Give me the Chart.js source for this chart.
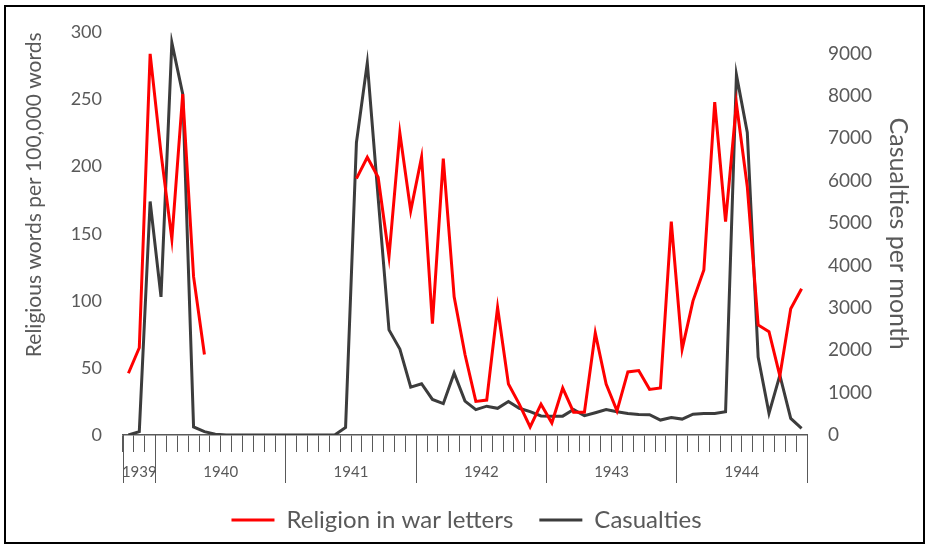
<!DOCTYPE html>
<html>
<head>
<meta charset="utf-8">
<script src="https://cdn.jsdelivr.net/npm/chart.js@4.4.1/dist/chart.umd.min.js"></script>
<style>
html,body{margin:0;padding:0;background:#fff;}
#wrap{position:relative;width:933px;height:548px;}
</style>
</head>
<body>
<div id="wrap"><canvas id="c" width="933" height="548"></canvas></div>
<script>
// ---- data ----
const years = ['1939', '1940', '1941', '1942', '1943', '1944'];
const monthsPerYear = [3, 12, 12, 12, 12, 12];
const monthNames = ['Jan','Feb','Mar','Apr','May','Jun','Jul','Aug','Sep','Oct','Nov','Dec'];

const religion = [
  46, 65, 284, 210, 146, 254, 118, 60,
  null, null, null, null, null, null, null, null, null, null, null, null, null,
  191, 207, 192, 133, 225, 167, 207, 83, 206, 103, 60, 25, 26, 95, 38, 23,
  6, 23, 9, 35, 17, 17, 76, 38, 18, 47, 48, 34, 35,
  159, 64, 100, 123, 248, 159, 247, 185, 82, 77, 44, 94, 109
];
const casualties = [
  0, 80, 5510, 3260, 9260, 8050, 190, 80, 20, 0, 0, 0, 0, 0, 0, 0, 0, 0, 0, 0, 180,
  6900, 8780, 5600, 2480, 2030, 1130, 1210, 840, 740, 1460, 800, 600, 680, 630, 790, 630,
  550, 450, 445, 445, 600, 455, 525, 600, 550, 510, 485, 480, 352,
  410, 375, 490, 508, 508, 547, 8500, 7140, 1840, 510, 1410, 390, 155
];
const leftTicks = [0, 50, 100, 150, 200, 250, 300];
const rightTicks = [0, 1000, 2000, 3000, 4000, 5000, 6000, 7000, 8000, 9000];

// build categories (months) from the year structure
const categories = [];
years.forEach((y, k) => {
  const n = monthsPerYear[k];
  for (let m = 12 - n; m < 12; m++) categories.push(monthNames[m] + ' ' + y);
});
// year group boundaries and centres (in category units)
const boundaries = [0];
monthsPerYear.forEach(n => boundaries.push(boundaries[boundaries.length - 1] + n));
const yearCentre = {};
years.forEach((y, k) => { yearCentre[(boundaries[k] + boundaries[k + 1]) / 2] = y; });

const GREY = '#595959';
Chart.defaults.font.family = 'Lato';
Chart.defaults.color = GREY;

const framePlugin = {
  id: 'frame',
  afterDraw(chart) {
    const ctx = chart.ctx;
    ctx.save();
    ctx.strokeStyle = '#000';
    ctx.lineWidth = 2;
    ctx.strokeRect(5, 6, 919, 537);
    ctx.restore();
  }
};

new Chart(document.getElementById('c'), {
  type: 'line',
  data: {
    labels: categories,
    datasets: [
      {
        label: 'Religion in war letters',
        data: religion,
        borderColor: '#FF0000',
        backgroundColor: '#FF0000',
        borderWidth: 3,
        pointRadius: 0,
        tension: 0,
        spanGaps: false,
        yAxisID: 'y'
      },
      {
        label: 'Casualties',
        data: casualties,
        borderColor: '#3c3c3c',
        backgroundColor: '#3c3c3c',
        borderWidth: 3,
        pointRadius: 0,
        tension: 0,
        yAxisID: 'y2'
      }
    ]
  },
  options: {
    responsive: false,
    animation: false,
    devicePixelRatio: 1,
    layout: { padding: { left: 8, right: 8, top: 30, bottom: 6 } },
    plugins: {
      tooltip: { enabled: false },
      legend: {
        position: 'bottom',
        labels: {
          boxWidth: 43,
          boxHeight: 3,
          padding: 26,
          color: GREY,
          font: { size: 24 },
          generateLabels(chart) {
            return chart.data.datasets.map((ds, i) => ({
              text: ds.label,
              fillStyle: ds.borderColor,
              strokeStyle: ds.borderColor,
              lineWidth: 0,
              hidden: false,
              datasetIndex: i,
              fontColor: GREY
            }));
          }
        }
      }
    },
    scales: {
      x: {
        type: 'category',
        position: 'bottom',
        weight: 0,
        offset: true,
        grid: { display: true, drawOnChartArea: false, drawTicks: true, tickLength: 17, offset: true, color: GREY, lineWidth: 1 },
        border: { display: true, color: GREY, width: 1.5 },
        ticks: { display: false, autoSkip: false },
        afterFit(s) { s.height = 0; }
      },
      x2: {
        type: 'linear',
        position: 'bottom',
        weight: 1,
        min: 0,
        max: boundaries[boundaries.length - 1],
        grid: {
          display: true, drawOnChartArea: false, drawTicks: true, tickLength: 48, lineWidth: 1,
          color(ctx) {
            if (ctx.tick && boundaries.includes(ctx.tick.value)) return GREY;
            return 'rgba(0,0,0,0)';
          }
        },
        border: { display: false },
        ticks: {
          stepSize: 0.5,
          maxTicksLimit: 1000,
          autoSkip: false,
          maxRotation: 0,
          padding: -20,
          color: GREY,
          font: { size: 15 },
          callback(v) { return yearCentre[v] || ''; }
        },
        afterFit(s) { s.height = 47; }
      },
      y: {
        type: 'linear',
        position: 'left',
        min: 0,
        max: 300,
        afterBuildTicks(s) { s.ticks = leftTicks.map(v => ({ value: v })); },
        grid: { display: false, drawTicks: false },
        border: { display: false },
        ticks: { padding: 21, color: GREY, font: { size: 18 }, callback(v) { return String(v); } },
        title: {
          display: true,
          text: 'Religious words per 100,000 words',
          align: 'end',
          color: GREY,
          font: { size: 21 },
          padding: { top: 14, bottom: 0 }
        },
        afterFit(s) { s.width = 115; }
      },
      y2: {
        type: 'linear',
        position: 'right',
        min: 0,
        max: 9500,
        afterBuildTicks(s) { s.ticks = rightTicks.map(v => ({ value: v })); },
        grid: { display: false, drawTicks: false },
        border: { display: false },
        ticks: { padding: 21, color: GREY, font: { size: 19 }, callback(v) { return String(v); } },
        title: {
          display: true,
          text: 'Casualties per month',
          color: GREY,
          font: { size: 25 },
          padding: { top: 12, bottom: 0 }
        },
        afterFit(s) { s.width = 118; }
      }
    }
  },
  plugins: [framePlugin]
});
</script>
</body>
</html>
